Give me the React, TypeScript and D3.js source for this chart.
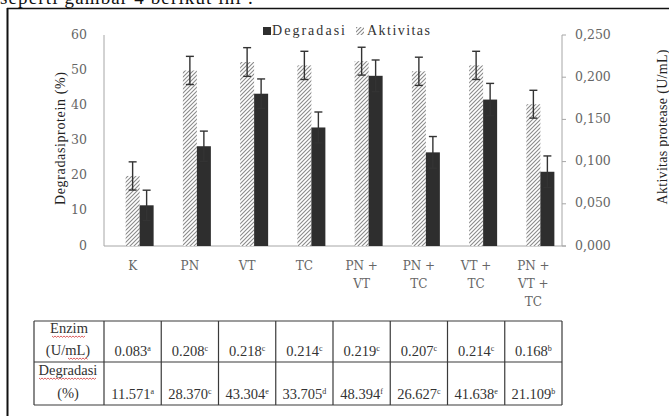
import React from "react";
import * as d3 from "d3";

// Treatments (x categories) and their wrapped axis labels
const categories = ["K", "PN", "VT", "TC", "PN + VT", "PN + TC", "VT + TC", "PN + VT + TC"];
const categoryLines = [["K"], ["PN"], ["VT"], ["TC"], ["PN +", "VT"], ["PN +", "TC"], ["VT +", "TC"], ["PN +", "VT +", "TC"]];

// Protein degradation (%) — left axis
const degradasi = [11.571, 28.37, 43.304, 33.705, 48.394, 26.627, 41.638, 21.109];
const degradasiErr = [4.3, 4.3, 4.2, 4.4, 4.5, 4.5, 4.6, 4.5];
const degradasiSig = ["a", "c", "e", "d", "f", "c", "e", "b"];

// Protease activity (U/mL) — right axis
const aktivitas = [0.083, 0.208, 0.218, 0.214, 0.219, 0.207, 0.214, 0.168];
const aktivitasErr = [0.0167, 0.0167, 0.017, 0.0167, 0.0165, 0.0167, 0.0167, 0.0165];
const aktivitasSig = ["a", "c", "c", "c", "c", "c", "c", "b"];

const leftTicks = [0, 10, 20, 30, 40, 50, 60];
const rightTicks = [0, 0.05, 0.1, 0.15, 0.2, 0.25];

const W = 669;
const H = 416;
const plot = { left: 104, right: 562, top: 35, bottom: 246 };
const axisFont = "'DejaVu Serif', serif";
const serif = "'Liberation Serif', 'Times New Roman', serif";
const axisColor = "#a6a6a6";
const labelColor = "#666";
const darkBar = "#2e2e2e";

const x = d3.scaleBand<string>().domain(categories).range([plot.left, plot.right]).padding(0);
const yLeft = d3.scaleLinear().domain([0, 60]).range([plot.bottom, plot.top]);
const yRight = d3.scaleLinear().domain([0, 0.25]).range([plot.bottom, plot.top]);
const fmtRight = (v: number) => d3.format(".3f")(v).replace(".", ",");

const barW = 14;
const capW = 8;

function ErrorBar({ cx, y0, y1 }: { cx: number; y0: number; y1: number }) {
  return (
    <g stroke="#333" strokeWidth={1.4}>
      <line x1={cx} x2={cx} y1={y0} y2={y1} />
      <line x1={cx - capW / 2} x2={cx + capW / 2} y1={y0} y2={y0} />
      <line x1={cx - capW / 2} x2={cx + capW / 2} y1={y1} y2={y1} />
    </g>
  );
}

function Squiggle({ x0, x1, y }: { x0: number; x1: number; y: number }) {
  const pts: [number, number][] = [];
  for (let px = x0, i = 0; px <= x1; px += 1.5, i++) pts.push([px, y + (i % 2 === 0 ? 0 : 1.3)]);
  return <path d={d3.line()(pts) ?? ""} fill="none" stroke="#d23a3a" strokeWidth={0.8} />;
}

export default function App() {
  const center = (c: string) => (x(c) ?? 0) + x.bandwidth() / 2;
  const tableTop = 321;
  const tableMid = 362;
  const tableBottom = 405;
  const tableLeft = 34;
  const colEdges = [tableLeft, ...categories.map((c) => x(c) ?? 0), plot.right];

  return (
    <svg
      width={W}
      height={H}
      viewBox={`0 0 ${W} ${H}`}
      style={{ position: "absolute", left: 0, top: 0, background: "#fff" }}
    >
      <defs>
        <pattern id="hatch" patternUnits="userSpaceOnUse" width={4} height={4}>
          <rect width={4} height={4} fill="#fff" />
          <path d="M-1,1 l2,-2 M0,4 l4,-4 M3,5 l2,-2" stroke="#8a8a8a" strokeWidth={1.1} />
        </pattern>
      </defs>

      {/* running text above the figure */}
      <text x={0} y={4} fontFamily={serif} fontSize={19} fill="#111" textLength={253} lengthAdjust="spacing">
        seperti gambar 4 berikut ini :
      </text>

      {/* figure frame */}
      <line x1={7} x2={W} y1={8.5} y2={8.5} stroke="#111" strokeWidth={1.5} />
      <line x1={7.5} x2={7.5} y1={8} y2={H} stroke="#111" strokeWidth={2} />

      {/* legend */}
      <g fontFamily={serif} fontSize={14} fill="#333">
        <rect x={263} y={27} width={8} height={8} fill={darkBar} />
        <text x={272} y={35} textLength={73} lengthAdjust="spacing">Degradasi</text>
        <rect x={356} y={27} width={8} height={8} fill="url(#hatch)" />
        <text x={367} y={35} textLength={63} lengthAdjust="spacing">Aktivitas</text>
      </g>

      {/* axes */}
      <line x1={plot.left} x2={plot.left} y1={plot.top} y2={plot.bottom} stroke={axisColor} />
      <line x1={plot.right} x2={plot.right} y1={plot.top} y2={plot.bottom} stroke={axisColor} />
      <line x1={plot.left} x2={plot.right + 4} y1={plot.bottom} y2={plot.bottom} stroke={axisColor} />

      <g fontFamily={axisFont} fontSize={12.5} fill={labelColor}>
        {leftTicks.map((t) => (
          <text key={t} x={87} y={yLeft(t)} textAnchor="end" dominantBaseline="middle">
            {t}
          </text>
        ))}
        {rightTicks.map((t) => (
          <g key={t}>
            <line x1={plot.right} x2={plot.right + 4} y1={yRight(t)} y2={yRight(t)} stroke={axisColor} />
            <text x={575} y={yRight(t)} dominantBaseline="middle">
              {fmtRight(t)}
            </text>
          </g>
        ))}
        {categories.map((c, i) => (
          <text key={c} x={center(c)} y={270} textAnchor="middle" fontSize={12}>
            {categoryLines[i].map((ln, j) => (
              <tspan key={j} x={center(c)} dy={j === 0 ? 0 : 18}>
                {ln}
              </tspan>
            ))}
          </text>
        ))}
      </g>

      {/* axis titles */}
      <text
        transform={`translate(65,138.5) rotate(-90)`}
        textAnchor="middle"
        fontFamily={serif}
        fontSize={14}
        fill="#222"
        textLength={133}
        lengthAdjust="spacing"
      >
        Degradasiprotein (%)
      </text>
      <text
        transform={`translate(667,127) rotate(-90)`}
        textAnchor="middle"
        fontFamily={serif}
        fontSize={14}
        fill="#222"
        textLength={155}
        lengthAdjust="spacing"
      >
        Aktivitas protease (U/mL)
      </text>

      {/* bars */}
      {categories.map((c, i) => {
        const cx = center(c);
        const ya = yRight(aktivitas[i]);
        const yd = yLeft(degradasi[i]);
        return (
          <g key={c}>
            <rect x={cx - barW / 2} y={ya} width={barW} height={plot.bottom - ya} fill="url(#hatch)" />
            <rect x={cx + barW / 2} y={yd} width={barW} height={plot.bottom - yd} fill={darkBar} />
            <ErrorBar
              cx={cx}
              y0={yRight(aktivitas[i] + aktivitasErr[i])}
              y1={yRight(aktivitas[i] - aktivitasErr[i])}
            />
            <ErrorBar
              cx={cx + barW}
              y0={yLeft(degradasi[i] + degradasiErr[i])}
              y1={yLeft(degradasi[i] - degradasiErr[i])}
            />
          </g>
        );
      })}

      {/* summary table */}
      <g stroke="#3a3a3a" strokeWidth={1.2}>
        {[tableTop, tableMid, tableBottom].map((y) => (
          <line key={y} x1={tableLeft} x2={plot.right} y1={y} y2={y} />
        ))}
        {colEdges.map((cx, i) => (
          <line key={i} x1={cx} x2={cx} y1={tableTop} y2={tableBottom} />
        ))}
      </g>
      <g fontFamily={serif} fontSize={14.5} fill="#333">
        <text x={69} y={333} textAnchor="middle">Enzim</text>
        <text x={68} y={355} textAnchor="middle">(U/mL)</text>
        <text x={68} y={375} textAnchor="middle">Degradasi</text>
        <text x={68} y={398} textAnchor="middle">(%)</text>
        {categories.map((c, i) => (
          <g key={c}>
            <text x={center(c)} y={356} textAnchor="middle">
              {aktivitas[i].toFixed(3)}
              <tspan fontSize={8} dy={-5}>{aktivitasSig[i]}</tspan>
            </text>
            <text x={center(c)} y={399} textAnchor="middle">
              {degradasi[i].toFixed(3)}
              <tspan fontSize={8} dy={-5}>{degradasiSig[i]}</tspan>
            </text>
          </g>
        ))}
      </g>
      <Squiggle x0={52} x1={86} y={336} />
      <Squiggle x0={68} x1={88} y={358} />
      <Squiggle x0={39} x1={97} y={378} />
    </svg>
  );
}
